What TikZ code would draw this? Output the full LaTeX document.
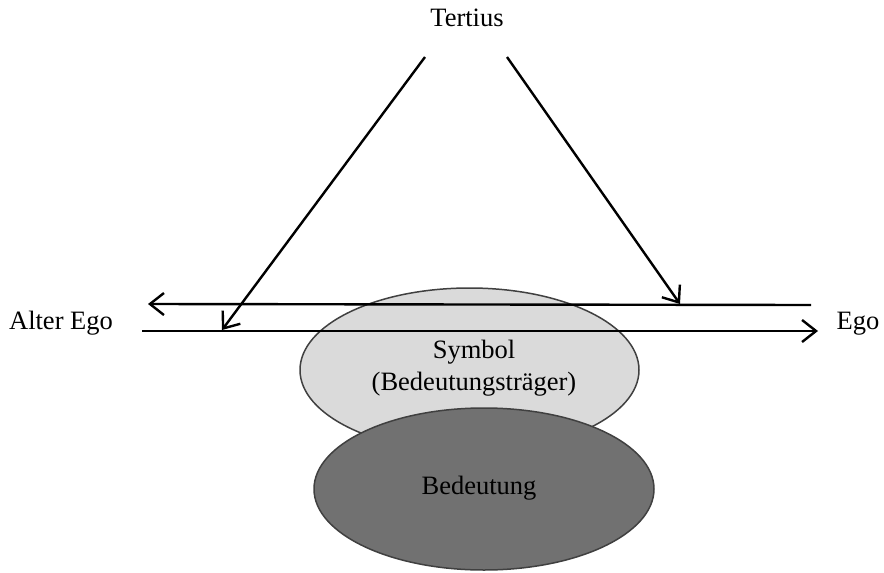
\documentclass[tikz,border=0pt]{standalone}
\usepackage{fontspec}
\setmainfont{Liberation Serif}
\usetikzlibrary{arrows.meta,shapes.geometric}
\definecolor{lightfill}{HTML}{DADADA}
\definecolor{darkfill}{HTML}{717171}
\definecolor{rim}{HTML}{404040}
\tikzset{
  lbl/.style={font=\fontsize{26.5}{30}\selectfont, inner sep=0pt, anchor=base},
  ell/.style={ellipse, draw=rim, line width=1.5pt, inner sep=0pt},
  conn/.style={line width=2.4pt, -{Straight Barb[length=14pt,width=22pt,line width=2.4pt]}},
}
\begin{document}
\begin{tikzpicture}[x=1pt,y=-1pt]
\useasboundingbox[fill=white] (0,0) rectangle (884,573);
% ellipses
\node[ell, fill=lightfill, minimum width=339pt, minimum height=164pt] (sym) at (469.5,370) {};
\node[lbl] (symt) at (474,358) {Symbol};
\node[lbl] (symb) at (474,390) {(Bedeutungsträger)};
% labels
\node[lbl] (tert) at (467,26) {Tertius};
\node[lbl] (alter) at (61,329) {Alter Ego};
\node[lbl] (ego) at (858,329) {Ego};
% coordinates
\coordinate (t1) at (425,57);
\coordinate (t2) at (507,57);
\coordinate (a1) at (222,330);
\coordinate (e1) at (680,304);
\coordinate (ts) at (811,305);
\coordinate (te) at (148,304);
\coordinate (bs) at (142,331);
\coordinate (be) at (818,331);
\draw[conn] (t1) -- (a1);
\draw[conn] (t2) -- (e1);
\draw[conn] (ts) -- (te);
\draw[conn] (bs) -- (be);
% dark ellipse
\node[ell, fill=darkfill, minimum width=340pt, minimum height=162pt] (bed) at (484,489) {};
\node[lbl] (bedt) at (479,494) {Bedeutung};
\end{tikzpicture}
\end{document}
